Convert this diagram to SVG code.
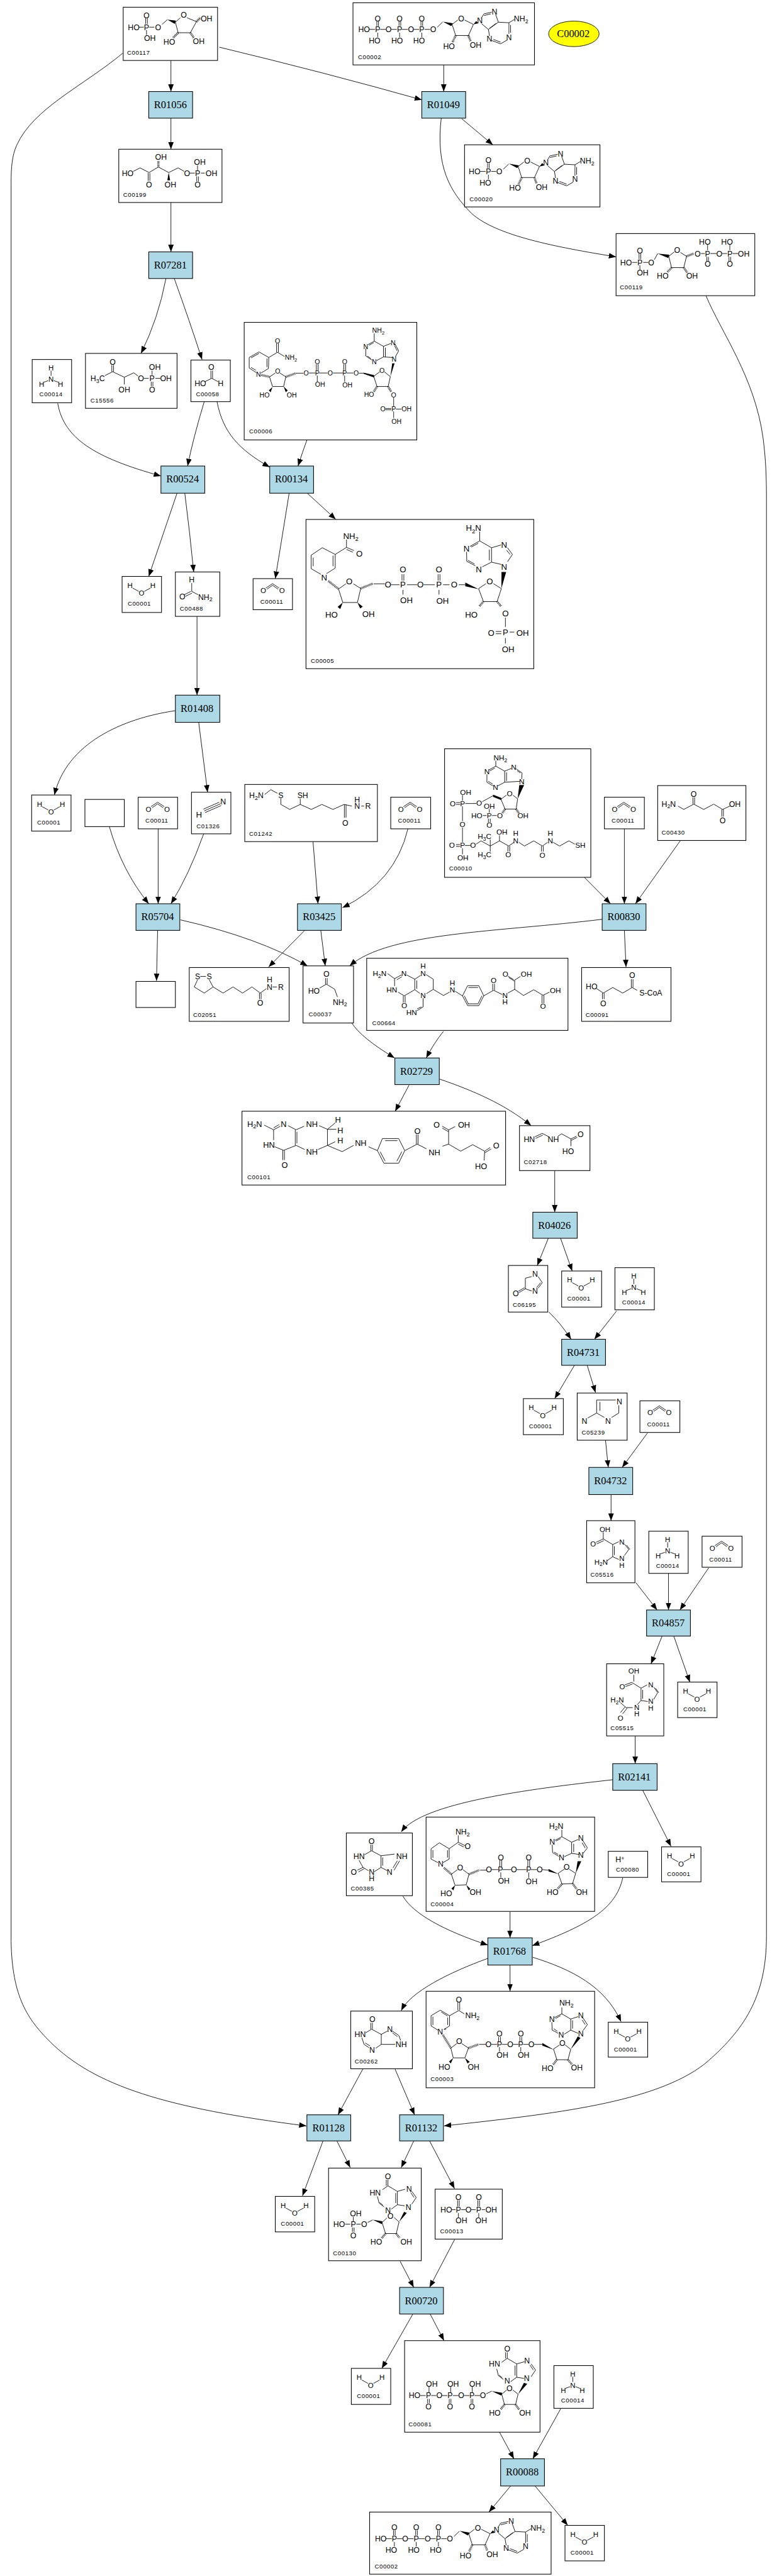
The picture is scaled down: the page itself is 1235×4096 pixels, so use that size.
<svg xmlns="http://www.w3.org/2000/svg" xmlns:xlink="http://www.w3.org/1999/xlink" width="1235" height="4096" viewBox="0 0 1235 4096">
<style>
text{font-family:"Liberation Sans",Arial,sans-serif;fill:#000}
.n{fill:#fff;stroke:#000;stroke-width:1.2}
.r{fill:#add8e6;stroke:#000;stroke-width:1.2}
.l{font-family:"Liberation Serif","Times New Roman",serif;font-size:18.67px;text-anchor:middle}
.a{text-anchor:middle}
.f{text-anchor:start}
.c{font-size:11px;letter-spacing:.6px}
.s{font-size:.72em}
.b{fill:none;stroke:#000;stroke-width:1}
.h{fill:none;stroke:#000;stroke-width:4;stroke-dasharray:1 1.4}
.w{fill:#000}
.z .b{stroke-width:3}
.z .h{stroke-width:12;stroke-dasharray:3 4.2}
.z .c{font-size:33px;letter-spacing:1.8px}
.e{fill:none;stroke:#000;stroke-width:1;marker-end:url(#ah)}
</style>
<defs>
<marker id="ah" markerUnits="userSpaceOnUse" markerWidth="14" markerHeight="11" refX="13" refY="5" orient="auto"><path d="M0 0L13 5L0 10z" fill="#000"/></marker>
<path id="h2o" class="b" d="M19 21L30 27M40 27L51 21"/>
<path id="nh3" class="b" d="M34 20V29.5M29 38L21 41M39 38L47 41"/>
<path id="co2" class="b" d="M23 17L35 9L47 17M25 19L35 12L45 19"/>
<g id="adn">
<path class="b" d="M152 44L161.6 34.6M178.6 39L189 31M201 31L217 39L208 59H185L178.6 39M231 28L236 20L250 17M236 23L248 20M257 21L262 35L244 48L232 38M258 37L246 46M262 35L281 36L291 30M281 36V56M284 40V54M278 67L266 74L250 68M266 71L253 66M246 60L244 48"/>
<polygon class="w" points="162,34 180,37 177,42"/>
<polygon class="w" points="217,39 222,33 226,37"/>
<path class="h" d="M185 59L179 72M208 59L212 70"/>
</g>
<path id="atpl" class="b" d="M43 33V42M46 33V42M83 33V42M86 33V42M122.5 33V42M125.5 33V42M44.6 54V62M84 54V62M124 54V62M29 48H40M49 48H59M69 48H79M88 48H99M109 48H119M129 48H139"/>
<path id="hyp" class="b" d="M107 32V21M104 32V21M107 32L97 39M107 32L124 42M124 42V66M121 45V63M124 42L138 38M150 42L158 53L150 65M148 44L154 53M124 66L137 68M124 66L113 74M100 70L91 63L88 51M98 67L92 62"/>
</defs>
<rect width="1235" height="4096" fill="#fff"/>
<g transform="scale(.88214)" font-size="14">

<g id="connectors">
<path class="e" d="M308 109V165"/>
<path class="e" d="M395 85Q590 132 760 180"/>
<path class="e" d="M221 96C150 155 60 195 30 262C22 280 20 300 20 330L20 3500C22 3600 50 3640 90 3680C170 3760 300 3800 552 3832"/>
<path class="e" d="M795 213C785 300 810 345 850 385C895 425 1000 445 1110 463"/>
<path class="e" d="M832 214L888 261"/>
<path class="e" d="M799.5 117V165"/>
<path class="e" d="M308 213V269"/>
<path class="e" d="M308 365V454"/>
<path class="e" d="M299 502Q285 575 254 637"/>
<path class="e" d="M314 502Q342 580 364 648"/>
<path class="e" d="M1272 533C1300 600 1360 680 1375 790C1380 830 1381 860 1381 900L1381 3490C1381 3600 1340 3660 1270 3720C1180 3790 1000 3810 800 3832"/>
<path class="e" d="M104 727C115 790 170 825 290 858"/>
<path class="e" d="M368 724Q348 790 338 840"/>
<path class="e" d="M391 724C402 780 430 810 486 842"/>
<path class="e" d="M553 793Q545 815 537 840"/>
<path class="e" d="M319 889L268 1039"/>
<path class="e" d="M333 889Q342 960 349 1031"/>
<path class="e" d="M521 889Q508 970 496 1043"/>
<path class="e" d="M553.6 889L605 936"/>
<path class="e" d="M355 1111V1253"/>
<path class="e" d="M316 1281C220 1295 120 1340 98 1433"/>
<path class="e" d="M358 1302L374 1428"/>
<path class="e" d="M197 1490Q220 1570 268 1629"/>
<path class="e" d="M285 1494V1629"/>
<path class="e" d="M367 1503Q340 1578 308 1629"/>
<path class="e" d="M564 1517L573 1629"/>
<path class="e" d="M735 1494Q712 1590 617 1636"/>
<path class="e" d="M1053 1581.500L1100 1629"/>
<path class="e" d="M1125 1494V1629"/>
<path class="e" d="M1226 1515L1145 1629"/>
<path class="e" d="M325 1658Q465 1690 554 1741"/>
<path class="e" d="M549 1677L484 1743"/>
<path class="e" d="M578 1677L586 1741"/>
<path class="e" d="M1085 1657C900 1680 700 1680 630 1741"/>
<path class="e" d="M1125 1677L1128 1743"/>
<path class="e" d="M284 1677L282 1768"/>
<path class="e" d="M634 1844Q650 1870 711 1907"/>
<path class="e" d="M799 1859Q782 1880 768 1907"/>
<path class="e" d="M737 1956L712 2003"/>
<path class="e" d="M792 1945C850 1965 910 1990 957 2029"/>
<path class="e" d="M999.500 2110V2185"/>
<path class="e" d="M988 2232L968 2281"/>
<path class="e" d="M1010 2232L1031 2291"/>
<path class="e" d="M989 2365Q1010 2385 1029 2414"/>
<path class="e" d="M1111 2363L1071 2414"/>
<path class="e" d="M1035 2461L999.500 2521"/>
<path class="e" d="M1058 2461L1073 2510"/>
<path class="e" d="M1091 2596L1096 2645"/>
<path class="e" d="M1166.600 2583L1121 2645"/>
<path class="e" d="M1101 2694V2741"/>
<path class="e" d="M1146 2853L1184 2902"/>
<path class="e" d="M1204.500 2836V2902"/>
<path class="e" d="M1277 2826L1225 2902"/>
<path class="e" d="M1193 2949L1173 2999"/>
<path class="e" d="M1214 2949L1243 3032"/>
<path class="e" d="M1144.500 3129V3179"/>
<path class="e" d="M1104 3208C950 3225 760 3250 723 3302"/>
<path class="e" d="M1158 3227L1209 3328"/>
<path class="e" d="M726 3418C745 3450 800 3480 879 3506"/>
<path class="e" d="M919 3446V3493"/>
<path class="e" d="M1122 3385C1110 3440 1060 3470 959 3507"/>
<path class="e" d="M879 3530C810 3555 740 3590 723 3624"/>
<path class="e" d="M919 3542V3589"/>
<path class="e" d="M960 3528C1030 3550 1090 3580 1119 3644"/>
<path class="e" d="M654 3729L609 3812"/>
<path class="e" d="M711.600 3729L747 3812"/>
<path class="e" d="M582 3859L545 3958"/>
<path class="e" d="M607 3859L631 3907"/>
<path class="e" d="M745.500 3859L723 3907"/>
<path class="e" d="M774 3859L819 3945"/>
<path class="e" d="M721 4076L745.500 4123"/>
<path class="e" d="M819 4037L774 4123"/>
<path class="e" d="M744 4171L688 4269"/>
<path class="e" d="M775 4171L800 4219"/>
<path class="e" d="M900 4384L926 4432"/>
<path class="e" d="M1011 4340.500L960 4432"/>
<path class="e" d="M920 4481L881 4528"/>
<path class="e" d="M964 4481L1023 4552"/>
</g>

<g id="C00002_key"><ellipse cx="1034" cy="61" rx="45.500" ry="23" fill="#ff0" stroke="#000"/><text class="l" x="1033" y="67">C00002</text></g>

<g id="R01056" transform="translate(268,165)"><rect class="r" width="79" height="48"/><text class="l" x="39" y="30">R01056</text></g>
<g id="R01049" transform="translate(760,165)"><rect class="r" width="79" height="48"/><text class="l" x="39" y="30">R01049</text></g>
<g id="R07281" transform="translate(268,454)"><rect class="r" width="79" height="48"/><text class="l" x="39" y="30">R07281</text></g>
<g id="R00524" transform="translate(290,840)"><rect class="r" width="79" height="49"/><text class="l" x="39" y="30">R00524</text></g>
<g id="R00134" transform="translate(486,840)"><rect class="r" width="79" height="49"/><text class="l" x="39" y="30">R00134</text></g>
<g id="R01408" transform="translate(316,1253)"><rect class="r" width="80" height="49"/><text class="l" x="39" y="30">R01408</text></g>
<g id="R05704" transform="translate(245,1629)"><rect class="r" width="79" height="48"/><text class="l" x="39" y="30">R05704</text></g>
<g id="R03425" transform="translate(536,1629)"><rect class="r" width="79" height="48"/><text class="l" x="39" y="30">R03425</text></g>
<g id="R00830" transform="translate(1085,1629)"><rect class="r" width="79" height="48"/><text class="l" x="39" y="30">R00830</text></g>
<g id="R02729" transform="translate(711.500,1907)"><rect class="r" width="80" height="48"/><text class="l" x="39" y="30">R02729</text></g>
<g id="R04026" transform="translate(960,2185)"><rect class="r" width="80" height="47"/><text class="l" x="39" y="30">R04026</text></g>
<g id="R04731" transform="translate(1012,2414)"><rect class="r" width="79" height="47"/><text class="l" x="39" y="30">R04731</text></g>
<g id="R04732" transform="translate(1061,2645)"><rect class="r" width="79" height="49"/><text class="l" x="39" y="30">R04732</text></g>
<g id="R04857" transform="translate(1165,2902)"><rect class="r" width="79" height="47"/><text class="l" x="39" y="30">R04857</text></g>
<g id="R02141" transform="translate(1104,3179)"><rect class="r" width="80" height="48"/><text class="l" x="39" y="30">R02141</text></g>
<g id="R01768" transform="translate(879,3493)"><rect class="r" width="80" height="49"/><text class="l" x="39" y="30">R01768</text></g>
<g id="R01128" transform="translate(553,3812)"><rect class="r" width="79" height="47"/><text class="l" x="39" y="30">R01128</text></g>
<g id="R01132" transform="translate(720,3812)"><rect class="r" width="79" height="47"/><text class="l" x="39" y="30">R01132</text></g>
<g id="R00720" transform="translate(720,4123)"><rect class="r" width="79" height="48"/><text class="l" x="39" y="30">R00720</text></g>
<g id="R00088" transform="translate(902,4432)"><rect class="r" width="79" height="49"/><text class="l" x="39" y="30">R00088</text></g>

<g id="blank_1" transform="translate(153,1441)"><rect class="n" width="71" height="49"/></g>
<g id="blank_2" transform="translate(245,1769)"><rect class="n" width="71" height="47"/></g>

<g id="C00117" transform="translate(222,13)"><rect class="n" width="170" height="96"/>
<path class="b" d="M40.500 20V30M43.500 20V30M42 41V50M28 36H37M47 36H56M70 31L79.500 22.500M94 27L103 19M115 19L132 26L121 46H99L94 27"/>
<polygon class="w" points="79.500,22.500 95,24 93,30"/>
<path class="h" d="M99 46L90 55M121 46L127 55M132 26L139 19"/>
<text class="a" x="42" y="20">O</text><text class="a" x="42" y="41">P</text><text class="a" x="19" y="41">HO</text><text class="a" x="63" y="41">O</text><text class="a" x="48" y="61">OH</text><text class="a" x="109" y="19">O</text><text class="a" x="150" y="25">OH</text><text class="a" x="83" y="67">HO</text><text class="a" x="136" y="66">OH</text><text class="c" x="7" y="86">C00117</text></g>

<g id="C00002_1" transform="translate(636,5)"><rect class="n" width="327" height="112"/>
<use href="#atpl"/><use href="#adn"/>
<text class="a" x="44.600" y="33">O</text><text class="a" x="84" y="33">O</text><text class="a" x="124" y="33">O</text><text class="a" x="20" y="53">HO</text><text class="a" x="44.600" y="53">P</text><text class="a" x="64" y="53">O</text><text class="a" x="84" y="53">P</text><text class="a" x="104.500" y="53">O</text><text class="a" x="124" y="53">P</text><text class="a" x="144.600" y="53">O</text><text class="a" x="39" y="73">HO</text><text class="a" x="79.500" y="73">HO</text><text class="a" x="119" y="73">HO</text><text class="a" x="195" y="34">O</text><text class="a" x="173" y="83">HO</text><text class="a" x="221" y="81">OH</text><text class="a" x="228.600" y="37">N</text><text class="a" x="255" y="21">N</text><text class="f" x="290" y="34">NH<tspan class="s" dy="3">2</tspan></text><text class="a" x="281" y="67">N</text><text class="a" x="246" y="70">N</text><text class="c" x="9" y="102">C00002</text></g>

<g id="C00020" transform="translate(837,261)"><rect class="n" width="244" height="112"/>
<use href="#adn" x="-82"/><path class="b" d="M41.500 33V42M44.500 33V42M43 54V62M28 48H38M48 48H57"/>
<text class="a" x="43" y="33">O</text><text class="a" x="18" y="53">HO</text><text class="a" x="43" y="53">P</text><text class="a" x="62.500" y="53">O</text><text class="a" x="37.500" y="73">HO</text><text class="a" x="113" y="34">O</text><text class="a" x="91" y="83">HO</text><text class="a" x="139" y="81">OH</text><text class="a" x="146.600" y="37">N</text><text class="a" x="173" y="21">N</text><text class="f" x="208" y="34">NH<tspan class="s" dy="3">2</tspan></text><text class="a" x="199" y="67">N</text><text class="a" x="164" y="70">N</text><text class="c" x="9" y="102">C00020</text></g>

<g id="C00199" transform="translate(214,269)"><rect class="n" width="186" height="96"/>
<path class="b" d="M26 40L38.400 33.600L54.500 42L71.400 32L90 42L107 33.600L118 40M53 43V57M56 43V57M128 43H137M148 43H155M142 29V38M140.500 49V58M143.500 49V58"/>
<path class="h" d="M71.400 32V20"/><polygon class="w" points="90,42 87.500,56 92.500,56"/>
<text class="a" x="16" y="48">HO</text><text class="a" x="54.500" y="69">O</text><text class="a" x="76" y="19">OH</text><text class="a" x="93" y="69">OH</text><text class="a" x="123" y="48">O</text><text class="a" x="142" y="48">P</text><text class="a" x="146" y="28">OH</text><text class="a" x="167" y="48">OH</text><text class="a" x="142" y="69">O</text><text class="c" x="8" y="86">C00199</text></g>

<g id="C00119" transform="translate(1110,421)"><rect class="n" width="250" height="112"/>
<path class="b" d="M41.500 36V46M44.500 36V46M43 57V66M29 52H38M49 52H58M69 47L75 36M95 41L105 33M116 34L127 41L122 61.400H100L95 41M153 36H160M170 36H181M191 36H200M210 36H220M165 20V30M205 20V30M163.500 42V50M166.500 42V50M203.500 42V50M206.500 42V50"/>
<polygon class="w" points="75,36 96,38 94,44"/>
<path class="h" d="M127 41L140 36M100 61.400L92 70M122 61.400L128 70"/>
<text class="a" x="43" y="57">P</text><text class="a" x="43" y="36">O</text><text class="a" x="18" y="57">HO</text><text class="a" x="63.400" y="57">O</text><text class="a" x="48" y="76">OH</text><text class="a" x="110" y="35">O</text><text class="a" x="84" y="81">HO</text><text class="a" x="137" y="81">OH</text><text class="a" x="147" y="41">O</text><text class="a" x="165" y="41">P</text><text class="a" x="186" y="41">O</text><text class="a" x="205" y="41">P</text><text class="a" x="230" y="41">OH</text><text class="a" x="160" y="20">HO</text><text class="a" x="200" y="20">HO</text><text class="a" x="165" y="60">O</text><text class="a" x="205" y="60">O</text><text class="c" x="7" y="101">C00119</text></g>

<g id="C15556" transform="translate(154,637)"><rect class="n" width="165" height="99"/>
<path class="b" d="M35 40L49 33L70 43L87 35L95 41M47.500 33V21M50.500 33V21M70 43V56M105 45H114M126 45H135M120 31V39M118.500 51V59M121.500 51V59"/>
<text class="f" x="9" y="50">H<tspan class="s" dy="3">3</tspan><tspan dy="-3">C</tspan></text><text class="a" x="49" y="20">O</text><text class="a" x="70" y="70">OH</text><text class="a" x="100" y="50">O</text><text class="a" x="120" y="50">P</text><text class="a" x="125" y="30">OH</text><text class="a" x="145" y="50">OH</text><text class="a" x="120" y="70">O</text><text class="c" x="9" y="89">C15556</text></g>

<g id="C00058" transform="translate(344,649)"><rect class="n" width="71" height="75"/>
<path class="b" d="M36 33V19M39 33V19M37.500 33L25 39M37.500 33L49 39"/>
<text class="a" x="36.600" y="18">O</text><text class="a" x="17" y="47">HO</text><text class="a" x="53.600" y="47">H</text><text class="c" x="9" y="65">C00058</text></g>

<g id="C00014_1" transform="translate(58,648)"><rect class="n" width="71" height="78"/><use href="#nh3"/>
<text class="a" x="34" y="20" font-size="13">H</text><text class="a" x="34" y="40" font-size="13">N</text><text class="a" x="17" y="49" font-size="13">H</text><text class="a" x="51" y="49" font-size="13">H</text><text class="c" x="13" y="66">C00014</text></g>

<g id="C00006"><rect class="n" x="440" y="581" width="311" height="212"/>
<g class="z" transform="translate(435,575) scale(.33333)" font-size="36">
<path class="b" d="M148 208L95 178L42 208V265L80 290M148 208L146 268L106 292M52 210L95 186M138 214V260M52 262L78 277M148 208L195 180L232 202M190 180V132M200 180V132M152 313L183 292M208 292L240 313L228 365H168L152 313M295 293H335M365 292H400M420 292H465M495 292H548M568 292H605M405 278V245M415 278V245M553 278V245M563 278V245M410 306V340M558 306V340M635 293H660M715 310L748 285M772 285L805 312L793 365H733L715 310M823 425V475M778 484H810M778 491H810M835 487H865M823 500V535M815 208L768 205V148L808 132M778 205V155M830 135L850 172L832 205M828 145L842 172M768 148L718 120L685 138M715 128L690 142M672 160V200L705 222M680 200L700 214M730 225L768 205M718 120V78"/>
<path class="h" d="M108 303L152 313M240 313L295 293M733 365L715 395M793 365L810 395"/>
<polygon class="w" points="168,367 148,386 158,396"/><polygon class="w" points="228,365 240,396 250,386"/><polygon class="w" points="660,290 660,296 717,316 717,304"/><polygon class="w" points="805,312 815,240 828,240"/>
<text class="a" x="195" y="131">O</text><text class="f" x="235" y="222">NH<tspan class="s" dy="10">2</tspan></text><text class="a" x="92" y="311">N</text><text class="a" x="125" y="425">HO</text><text class="a" x="272" y="423">OH</text><text class="a" x="196" y="296">O</text><text class="a" x="350" y="305">O</text><text class="a" x="410" y="305">P</text><text class="a" x="480" y="305">O</text><text class="a" x="558" y="305">P</text><text class="a" x="620" y="305">O</text><text class="a" x="410" y="243">O</text><text class="a" x="558" y="243">O</text><text class="a" x="425" y="368">OH</text><text class="a" x="573" y="370">OH</text><text class="a" x="760" y="291">O</text><text class="a" x="825" y="231">N</text><text class="a" x="690" y="421">HO</text><text class="a" x="823" y="423">O</text><text class="a" x="823" y="500">P</text><text class="a" x="765" y="500">O</text><text class="a" x="893" y="500">OH</text><text class="a" x="838" y="566">OH</text><text class="a" x="820" y="141">N</text><text class="a" x="672" y="161">N</text><text class="a" x="718" y="243">N</text><text class="f" x="707" y="75">NH<tspan class="s" dy="10">2</tspan></text><text class="c" x="42" y="618">C00006</text>
</g></g>

<g id="C00488" transform="translate(316,1031)"><rect class="n" width="80" height="80"/>
<path class="b" d="M29.500 35V20M28 35L16 41M30 38L18 44M29.500 35L41 41"/>
<text class="a" x="29.500" y="19">H</text><text class="a" x="12.500" y="49">O</text><text class="f" x="41" y="50">NH<tspan class="s" dy="3">2</tspan></text><text class="c" x="8" y="70">C00488</text></g>

<g id="C00001_1" transform="translate(220,1039)"><rect class="n" width="71" height="65"/><use href="#h2o"/><text class="a" x="14.300" y="21" font-size="13">H</text><text class="a" x="35" y="35" font-size="13">O</text><text class="a" x="55.300" y="21" font-size="13">H</text><text class="c" x="10" y="53">C00001</text></g>
<g id="C00011_1" transform="translate(456,1043)"><rect class="n" width="71" height="56"/><use href="#co2"/><text class="a" x="18.500" y="26" font-size="13">O</text><text class="a" x="52" y="26" font-size="13">O</text><text class="c" x="13" y="45.500">C00011</text></g>

<g id="C00005"><rect class="n" x="551.300" y="936.300" width="410.400" height="269"/>
<g class="z" transform="translate(545,930) scale(.33333)" font-size="45">
<path class="b" d="M107 172L47 212V285L100 316M107 172L177 208V282L130 312M58 225V272M165 215V272M177 208L238 170V128M238 170L278 187M238 181L272 196M195 395L235 367M275 367L315 392L297 468H218L195 395M385 367H445M478 372H525M565 372H620M655 372H715M760 372H795M845 372H880M538 350V315M548 350V315M733 350V315M743 350V315M543 400V425M738 400V425M952 393L992 366M1032 366L1075 393L1052 463H978L952 393M1097 550V600M1045 625H1075M1045 637H1075M1120 628H1145M1097 660V690M1075 262L1022 250V172L1073 157M1010 240V182M1108 172L1135 208L1108 248M1103 185L1122 208M1022 172L958 135L905 165M950 148L912 168M887 195L888 245L935 270M895 240L930 260M972 275L1022 250M958 135V85"/>
<path class="h" d="M140 352L195 395M315 392L382 365M978 463L955 490M1052 463L1075 490"/>
<polygon class="w" points="218,468 190,492 204,504"/><polygon class="w" points="297,468 312,500 326,490"/><polygon class="w" points="880,360 880,380 952,396"/><polygon class="w" points="1075,393 1076,303 1101,303"/>
<text class="a" x="117" y="348">N</text><text class="f" x="220" y="123">NH<tspan class="s" dy="12">2</tspan></text><text class="a" x="307" y="221">O</text><text class="a" x="253" y="370">O</text><text class="a" x="157" y="551">HO</text><text class="a" x="357" y="546">OH</text><text class="a" x="462" y="388">O</text><text class="a" x="543" y="388">P</text><text class="a" x="637" y="388">O</text><text class="a" x="738" y="388">P</text><text class="a" x="820" y="388">O</text><text class="a" x="543" y="306">O</text><text class="a" x="738" y="306">O</text><text class="a" x="562" y="473">OH</text><text class="a" x="757" y="474">OH</text><text class="a" x="1012" y="370">O</text><text class="a" x="913" y="548">HO</text><text class="a" x="1097" y="543">O</text><text class="a" x="1097" y="646">P</text><text class="a" x="1020" y="648">O</text><text class="a" x="1190" y="648">OH</text><text class="a" x="1112" y="738">OH</text><text class="a" x="1090" y="291">N</text><text class="a" x="1090" y="171">N</text><text class="a" x="887" y="194">N</text><text class="a" x="953" y="306">N</text><text class="f" x="883" y="81">H<tspan class="s" dy="12">2</tspan><tspan dy="-12">N</tspan></text><text class="c" x="45" y="794">C00005</text>
</g></g>

<g id="C00001_2" transform="translate(57,1433)"><rect class="n" width="71" height="65"/><use href="#h2o"/><text class="a" x="14.300" y="21" font-size="13">H</text><text class="a" x="35" y="35" font-size="13">O</text><text class="a" x="55.300" y="21" font-size="13">H</text><text class="c" x="10" y="53">C00001</text></g>
<g id="C00011_2" transform="translate(249,1437)"><rect class="n" width="71" height="57"/><use href="#co2"/><text class="a" x="18.500" y="26" font-size="13">O</text><text class="a" x="52" y="26" font-size="13">O</text><text class="c" x="13" y="45.500">C00011</text></g>
<g id="C00011_3" transform="translate(704,1437)"><rect class="n" width="72" height="57"/><use href="#co2"/><text class="a" x="18.500" y="26" font-size="13">O</text><text class="a" x="52" y="26" font-size="13">O</text><text class="c" x="13" y="45.500">C00011</text></g>
<g id="C00011_4" transform="translate(1089,1437)"><rect class="n" width="72" height="57"/><use href="#co2"/><text class="a" x="18.500" y="26" font-size="13">O</text><text class="a" x="52" y="26" font-size="13">O</text><text class="c" x="13" y="45.500">C00011</text></g>

<g id="C01326" transform="translate(345,1428)"><rect class="n" width="71" height="75"/>
<path class="b" d="M23 33.600L52 21M21.500 30.500L50 18M24.500 36.700L53.500 24"/>
<text class="a" x="13.400" y="46" font-size="15">H</text><text class="a" x="57" y="22">N</text><text class="c" x="9" y="65">C01326</text></g>

<g id="C01242" transform="translate(441,1414)"><rect class="n" width="239" height="103"/>
<path class="b" d="M36 18L47 9.400L59 16M65 25V36L81 45L100 36L120 45L139 36L159 45L179 36L193 39M100 36V26M179.500 36V60M182.500 36V60M210 39H215"/>
<text class="f" x="8" y="25">H<tspan class="s" dy="3">2</tspan><tspan dy="-3">N</tspan></text><text class="a" x="65" y="24">S</text><text class="a" x="104.500" y="24">SH</text><text class="a" x="202.700" y="32">H</text><text class="a" x="202.700" y="44">N</text><text class="a" x="222" y="44">R</text><text class="a" x="181" y="74">O</text><text class="c" x="8" y="93">C01242</text></g>

<g id="C00010"><rect class="n" x="801" y="1349.700" width="263.500" height="231.700"/>
<g class="z" transform="translate(795,1345) scale(.33333)" font-size="40">
<path class="b" d="M295 108V78M295 108L258 128M290 118L262 134M247 152V195L280 215M254 190L278 205M305 215L343 195V135L295 108M353 188V142M343 135L380 120M405 122L437 145L435 178M410 132L428 145M425 190L343 195M413 285L388 265M352 265L323 287L345 340H405L413 285M280 268L222 300M190 310H130M115 295V265M80 305H102M80 315H102M115 325V405M115 440V520M128 537H158M80 532H102M80 542H102M115 552V585M188 530L215 512L265 540L315 512L365 540L393 520M420 520L450 540L500 512L547 540L575 520M605 520L640 540L690 512L722 530M360 540V570M370 540V570M542 540V570M552 540V570M315 512V482M265 540V505M265 540V570M225 375H245M275 375H300M260 340V360M255 392V412M265 392V412"/>
<path class="h" d="M345 340L330 362M405 340L420 362"/>
<polygon class="w" points="413,285 422,210 448,210"/><polygon class="w" points="280,262 280,274 325,292 325,280"/>
<text class="f" x="283" y="76">NH<tspan class="s" dy="10">2</tspan></text><text class="a" x="247" y="152">N</text><text class="a" x="293" y="236">N</text><text class="a" x="392" y="126">N</text><text class="a" x="435" y="206">N</text><text class="a" x="370" y="271">O</text><text class="a" x="205" y="322">O</text><text class="a" x="115" y="324">P</text><text class="a" x="132" y="264">OH</text><text class="a" x="62" y="324">O</text><text class="a" x="115" y="437">O</text><text class="a" x="115" y="551">P</text><text class="a" x="58" y="551">O</text><text class="a" x="172" y="551">O</text><text class="a" x="117" y="617">OH</text><text class="a" x="362" y="602">O</text><text class="a" x="547" y="604">O</text><text class="a" x="403" y="524">N</text><text class="a" x="403" y="486">H</text><text class="a" x="590" y="524">N</text><text class="a" x="590" y="486">H</text><text class="a" x="752" y="551">SH</text><text class="a" x="328" y="477">OH</text><text class="f" x="197" y="501">H<tspan class="s" dy="10">3</tspan><tspan dy="-10">C</tspan></text><text class="f" x="197" y="599">H<tspan class="s" dy="10">3</tspan><tspan dy="-10">C</tspan></text><text class="a" x="317" y="389">O</text><text class="a" x="442" y="389">OH</text><text class="a" x="260" y="389">P</text><text class="a" x="260" y="339">OH</text><text class="a" x="192" y="389">HO</text><text class="a" x="260" y="442">O</text><text class="c" x="42" y="673">C00010</text>
</g></g>

<g id="C00430" transform="translate(1185,1416)"><rect class="n" width="159" height="99"/>
<path class="b" d="M36.600 37L47 43L65 33.500L83 43L101 33.500L117 43L130 37M63.500 33.500V21M66.500 33.500V21M115.500 43V56M118.500 43V56"/>
<text class="f" x="7" y="38">H<tspan class="s" dy="3">2</tspan><tspan dy="-3">N</tspan></text><text class="a" x="65" y="20">O</text><text class="a" x="139" y="38">OH</text><text class="a" x="117" y="68">O</text><text class="c" x="7" y="88">C00430</text></g>

<g id="C02051" transform="translate(341,1744)"><rect class="n" width="180" height="97"/>
<path class="b" d="M20 16H30M15 22L9 35L27 46L43 35L36 22M43 35L61 46L79 35L96 46L113 35L128 46L139 38M126.500 46V57M129.500 46V57M150 35H158"/>
<text class="a" x="15" y="20.500">S</text><text class="a" x="36" y="20.500">S</text><text class="a" x="144.600" y="27">H</text><text class="a" x="144.600" y="40">N</text><text class="a" x="165" y="40">R</text><text class="a" x="127.700" y="69">O</text><text class="c" x="7" y="89">C02051</text></g>

<g id="C00037" transform="translate(546,1741)"><rect class="n" width="91" height="103"/>
<path class="b" d="M30 40L42 33M40.500 33V22M43.500 33V22M42 33L57 42L62 56"/>
<text class="a" x="42" y="20">O</text><text class="a" x="19.600" y="50">HO</text><text class="f" x="53.600" y="70">NH<tspan class="s" dy="3">2</tspan></text><text class="c" x="10" y="91">C00037</text></g>

<g id="C00664"><rect class="n" x="660.700" y="1727.300" width="362.700" height="130"/>
<g class="z" transform="translate(640,1720) scale(.33333)" font-size="40">
<path class="b" d="M175 105L213 132L250 112M225 138L252 122M278 112L322 135L353 115M383 110L422 135V190L385 213M350 212L322 192V135M333 187V142M322 192L265 225L232 205M213 132V172M260 225V262M270 225V262M367 238V285L335 305M358 285L335 295M422 190L477 223L510 205M540 200L580 225L608 170H668L695 225L668 278H608L580 225M612 180H664M590 225L612 270M685 225L664 268M610 268H664M695 225L748 195L795 218M743 195V160M753 195V160M825 210L862 190V140L893 120M857 138L825 118M862 146L830 126M862 190L910 223L965 192L1015 222L1050 205M1010 222V265M1020 222V265"/>
<text class="f" x="95" y="118">H<tspan class="s" dy="10">2</tspan><tspan dy="-10">N</tspan></text><text class="a" x="263" y="117">N</text><text class="a" x="367" y="117">N</text><text class="a" x="367" y="79">H</text><text class="a" x="198" y="206">HN</text><text class="a" x="367" y="236">N</text><text class="a" x="265" y="292">O</text><text class="a" x="305" y="329">HN</text><text class="a" x="525" y="169">H</text><text class="a" x="525" y="206">N</text><text class="a" x="748" y="157">O</text><text class="a" x="810" y="236">N</text><text class="a" x="810" y="271">H</text><text class="a" x="812" y="121">O</text><text class="a" x="925" y="121">OH</text><text class="a" x="1082" y="209">OH</text><text class="a" x="1015" y="294">O</text><text class="c" x="92" y="385">C00664</text>
</g></g>

<g id="C00091" transform="translate(1048,1744)"><rect class="n" width="161" height="97"/>
<path class="b" d="M27 38L39 46L56 36L74 46L91 36L100 41M37.500 46V57M40.500 46V57M89.500 36V21M92.500 36V21"/>
<text class="a" x="18" y="39">HO</text><text class="a" x="39" y="70">O</text><text class="a" x="91" y="19">O</text><text class="f" x="104" y="50">S-CoA</text><text class="c" x="7" y="89">C00091</text></g>

<g id="C00101" transform="translate(436,2003)"><rect class="n" width="475" height="133"/>
<path class="b" d="M40 25L57 33.500L69 27M57 30L67 24M83 26L97.600 33.500L112 27M139 26L154 32.600L168 21M154 32.600H170M154 32.600V61.600L168 55M154 61.600L137 69M113 69L97.600 61.600M96 33.500V61.600M99 37V58M97.600 61.600L75 70.500L59 64M57 33.500V52M73.500 70.500V88M76.500 70.500V88M154 61.600L180.600 72.800L201 61.600M228 64L244 71L253 49.300H282.300L293.300 71L282.300 93.700H255.700L244 71M258 53H280M249 73L258 90M288 73L279 90M293.300 71L315.700 59.300L332.300 67.700M314.200 59.300V42M317.200 59.300V42M361.300 63L372.300 59.300V33.700L360.700 27M372.300 37L361 30.500M372.300 33.700L384 27.700M372.300 59.300L394 72L415.700 60.300L437.300 72L447.300 65.300M437.300 75L449 68M437.300 72L436.300 88.700"/>
<g font-size="14.500"><text class="f" x="9.500" y="28">H<tspan class="s" dy="3">2</tspan><tspan dy="-3">N</tspan></text><text class="a" x="75" y="28">N</text><text class="a" x="126" y="28">NH</text><text class="a" x="173" y="21">H</text><text class="a" x="177" y="40">H</text><text class="a" x="177" y="58">H</text><text class="a" x="48.500" y="66">HN</text><text class="a" x="126" y="78">NH</text><text class="a" x="77" y="102">O</text><text class="a" x="214" y="63">NH</text><text class="a" x="316" y="41">O</text><text class="a" x="400" y="29">OH</text><text class="a" x="350.700" y="29">O</text><text class="a" x="346.700" y="79">NH</text><text class="a" x="458" y="67">O</text><text class="a" x="430.700" y="104">HO</text></g><text class="c" x="9.500" y="123">C00101</text></g>

<g id="C02718" transform="translate(936,2029)"><rect class="n" width="127" height="81"/>
<path class="b" d="M28 20L41 14M29 23L42 17M41 14L53 20M69.300 19L76 14.700L92.700 24L102.700 19M93.500 26.500L104 21M92.700 24V37"/>
<text class="a" x="17.700" y="30">HN</text><text class="a" x="61" y="30">NH</text><text class="a" x="110" y="20">O</text><text class="a" x="87.700" y="51">HO</text><text class="c" x="7.700" y="69.700">C02718</text></g>

<g id="C06195" transform="translate(916,2281)"><rect class="n" width="71" height="84"/>
<path class="b" d="M42 20L30.600 23V42L42 46M30.600 42L19 49M29 40L18 46.500M53.600 20L61 31L53.600 41M58 31L51 40"/>
<text class="a" x="48" y="20">N</text><text class="a" x="48" y="51">N</text><text class="a" x="13.400" y="55">O</text><text class="c" x="8" y="75">C06195</text></g>

<g id="C00001_3" transform="translate(1012,2291)"><rect class="n" width="72" height="65"/><use href="#h2o"/><text class="a" x="14.300" y="21" font-size="13">H</text><text class="a" x="35" y="35" font-size="13">O</text><text class="a" x="55.300" y="21" font-size="13">H</text><text class="c" x="10" y="53">C00001</text></g>
<g id="C00014_2" transform="translate(1108,2285)"><rect class="n" width="71" height="76"/><use href="#nh3"/><text class="a" x="34" y="20" font-size="13">H</text><text class="a" x="34" y="40" font-size="13">N</text><text class="a" x="17" y="49" font-size="13">H</text><text class="a" x="51" y="49" font-size="13">H</text><text class="c" x="13" y="66">C00014</text></g>
<g id="C00001_4" transform="translate(943,2521)"><rect class="n" width="72" height="65"/><use href="#h2o"/><text class="a" x="14.300" y="21" font-size="13">H</text><text class="a" x="35" y="35" font-size="13">O</text><text class="a" x="55.300" y="21" font-size="13">H</text><text class="c" x="10" y="53">C00001</text></g>

<g id="C05239" transform="translate(1040,2511)"><rect class="n" width="90" height="85"/>
<path class="b" d="M35 12.500H69.500M35 12.500V36M41 16V32M35 36L49 44M62 44L75 36M75 22V36M35 36L19 45"/>
<text class="a" x="76" y="20">N</text><text class="a" x="55.500" y="55">N</text><text class="a" x="13" y="55">N</text><text class="c" x="8" y="75">C05239</text></g>

<g id="C00011_5" transform="translate(1153,2525)"><rect class="n" width="72" height="57"/><use href="#co2"/><text class="a" x="18.500" y="26" font-size="13">O</text><text class="a" x="52" y="26" font-size="13">O</text><text class="c" x="13" y="45.500">C00011</text></g>

<g id="C05516" transform="translate(1057,2741)"><rect class="n" width="87" height="112"/>
<path class="b" d="M30 33V21M30 33L17 39M31 36L18 42M30 33L47 43V65M50 46V62M47 43L58 38M47 65L58 70M47 65L37 72M68 42L76 52L68 63M72 44L78 52"/>
<g font-size="13"><text class="a" x="33" y="20">OH</text><text class="a" x="11.600" y="47">O</text><text class="a" x="63.400" y="43">N</text><text class="f" x="14" y="79">H<tspan class="s" dy="3">2</tspan><tspan dy="-3">N</tspan></text><text class="a" x="63.400" y="73">N</text><text class="a" x="63.400" y="85">H</text></g><text class="c" x="7" y="101">C05516</text></g>

<g id="C00014_3" transform="translate(1169,2760)"><rect class="n" width="71" height="76"/><use href="#nh3"/><text class="a" x="34" y="20" font-size="13">H</text><text class="a" x="34" y="40" font-size="13">N</text><text class="a" x="17" y="49" font-size="13">H</text><text class="a" x="51" y="49" font-size="13">H</text><text class="c" x="13" y="66">C00014</text></g>
<g id="C00011_6" transform="translate(1265,2769)"><rect class="n" width="72" height="56"/><use href="#co2"/><text class="a" x="18.500" y="26" font-size="13">O</text><text class="a" x="52" y="26" font-size="13">O</text><text class="c" x="13" y="45.500">C00011</text></g>

<g id="C05515" transform="translate(1093,2999)"><rect class="n" width="103" height="130"/>
<path class="b" d="M49 32V20M45.500 33.500L33 38M46.500 36.500L34 41M45.500 33.500L62 44V66M65 47V63M62 44L73 38M62 66L74 68M62 66L55 74M85 42L92 52L85 64M88 44L94 52M35 79L25 70M35 79H47M33 78L25 88M37 80L29 90"/>
<g font-size="13"><text class="a" x="49" y="17">OH</text><text class="a" x="28" y="46">O</text><text class="a" x="79.500" y="42">N</text><text class="a" x="79.500" y="72">N</text><text class="a" x="79.500" y="84">H</text><text class="f" x="7" y="70">H<tspan class="s" dy="3">2</tspan><tspan dy="-3">N</tspan></text><text class="a" x="25" y="102">O</text><text class="a" x="54.500" y="83">N</text><text class="a" x="54.500" y="95">H</text></g><text class="c" x="7" y="120">C05515</text></g>

<g id="C00001_5" transform="translate(1221,3032)"><rect class="n" width="71" height="64"/><use href="#h2o"/><text class="a" x="14.300" y="21" font-size="13">H</text><text class="a" x="35" y="35" font-size="13">O</text><text class="a" x="55.300" y="21" font-size="13">H</text><text class="c" x="10" y="53">C00001</text></g>

<g id="C00385" transform="translate(624,3304)"><rect class="n" width="119" height="113"/>
<path class="b" d="M44 32V21M47 32V21M45.500 32L33 39M45.500 32L62.500 41V62M65.500 44V59M62.500 41L87 38M62.500 62L74 68M62.500 62L50 70M30 62L23 49M30 62L20 67M32 64.500L22 70M30 62L40 68M96 50L86 67M92 50L84 63"/>
<text class="a" x="45.500" y="20">O</text><text class="a" x="23" y="47">HN</text><text class="a" x="100" y="47">NH</text><text class="a" x="13.400" y="75">O</text><text class="a" x="78" y="75">N</text><text class="a" x="45.500" y="75">N</text><text class="a" x="45.500" y="87">H</text><text class="c" x="8" y="104">C00385</text></g>

<g id="C00004"><rect class="n" x="767.700" y="3275.300" width="303.700" height="170"/>
<g class="z" transform="translate(765,3270) scale(.33333)" font-size="42">
<path class="b" d="M133 187L80 155L35 187V243L72 262M133 187V243L100 262M45 195V237M124 195V235M133 187L182 152V115M182 152L218 170M182 162L212 178M145 325L178 300M207 300L240 325L225 382L165 385L145 325M300 303H335M362 300H398M422 300H468M498 300H550M575 300H608M637 300L670 303M407 248V285M417 248V285M558 248V285M568 248V285M412 315V342M563 315V345M722 320L755 298M782 298L817 320L800 375L743 378L722 320M835 218L795 212V152L830 137M806 205V160M855 142L880 183L857 212M852 155L868 183M795 152L742 122L705 142M735 132L710 146M690 165L692 208L725 228M700 205L722 218M755 230L795 212M742 122V85"/>
<path class="h" d="M105 290L145 325M240 325L295 303M743 378L718 405M800 375L822 405"/>
<polygon class="w" points="165,385 145,402 156,412"/><polygon class="w" points="225,382 238,412 248,404"/><polygon class="w" points="670,296 670,310 724,324"/><polygon class="w" points="817,320 827,255 847,255"/>
<text class="f" x="167" y="110">NH<tspan class="s" dy="10">2</tspan></text><text class="a" x="233" y="188">O</text><text class="f" x="673" y="78">H<tspan class="s" dy="10">2</tspan><tspan dy="-10">N</tspan></text><text class="a" x="845" y="145">N</text><text class="a" x="690" y="165">N</text><text class="a" x="740" y="250">N</text><text class="a" x="845" y="237">N</text><text class="a" x="87" y="285">N</text><text class="a" x="192" y="305">O</text><text class="a" x="348" y="315">O</text><text class="a" x="410" y="315">P</text><text class="a" x="483" y="315">O</text><text class="a" x="563" y="315">P</text><text class="a" x="622" y="315">O</text><text class="a" x="412" y="250">O</text><text class="a" x="563" y="250">O</text><text class="a" x="428" y="377">OH</text><text class="a" x="578" y="380">OH</text><text class="a" x="768" y="302">O</text><text class="a" x="117" y="442">HO</text><text class="a" x="275" y="437">OH</text><text class="a" x="692" y="435">HO</text><text class="a" x="850" y="435">OH</text><text class="c" x="32" y="497">C00004</text>
</g></g>

<g id="C00080" transform="translate(1096,3337)"><rect class="n" width="71" height="47"/><text class="f" x="13" y="20">H<tspan class="s" dy="-4">+</tspan></text><text class="c" x="13.700" y="37">C00080</text></g>
<g id="C00001_6" transform="translate(1192,3329)"><rect class="n" width="71" height="63"/><use href="#h2o"/><text class="a" x="14.300" y="21" font-size="13">H</text><text class="a" x="35" y="35" font-size="13">O</text><text class="a" x="55.300" y="21" font-size="13">H</text><text class="c" x="10" y="53">C00001</text></g>

<g id="C00262" transform="translate(632,3625)"><rect class="n" width="111" height="104"/>
<path class="b" d="M36 32.600V21M39 32.600V21M37.500 32.600L27 39M37.500 32.600L55 42V60M55 42L66 36M75 36L86.600 44M75 39L84 46M86.600 44L90 53M80 60H55M55 60L45 67M24 60L20 48M24 60L33 66M26 57.500L35 63"/>
<text class="a" x="39" y="20">O</text><text class="a" x="17" y="47">HN</text><text class="a" x="70.500" y="37.600">N</text><text class="a" x="91" y="65">NH</text><text class="a" x="38.400" y="75.500">N</text><text class="c" x="7" y="94">C00262</text></g>

<g id="C00003"><rect class="n" x="767.700" y="3589.300" width="303.700" height="174"/>
<g class="z" transform="translate(765,3270) scale(.33333)" font-size="42">
<path class="b" d="M180 1018V1060M190 1018V1060M185 1062L135 1090L85 1060L35 1090V1145L72 1168M135 1090V1145L105 1165M90 1070L125 1092M45 1095V1140M125 1100V1140M185 1062L215 1080M142 1265L175 1240M200 1240L237 1265L218 1318H155L142 1265M295 1245H332M360 1245H392M418 1245H448M478 1245H508M533 1245H563M400 1205V1232M410 1205V1232M515 1205V1232M525 1205V1232M405 1260V1285M520 1260V1285M592 1245H637M697 1270L730 1248M760 1248L790 1272L775 1328H715L697 1270M830 1185L790 1168V1108L830 1095M800 1160V1115M855 1100L880 1138L857 1170M852 1113L868 1138M790 1108L742 1080L702 1100M735 1090L708 1105M688 1125L690 1168L722 1185M698 1160L718 1175M755 1190L790 1168M742 1080V1045"/>
<path class="h" d="M100 1195L142 1265M237 1265L292 1245M715 1328L695 1355M775 1328L798 1355"/>
<polygon class="w" points="155,1318 132,1338 142,1348"/><polygon class="w" points="218,1318 232,1348 244,1340"/><polygon class="w" points="637,1238 637,1252 699,1274"/><polygon class="w" points="790,1272 828,1202 843,1210"/>
<text class="a" x="185" y="1017">O</text><text class="f" x="220" y="1103">NH<tspan class="s" dy="10">2</tspan></text><text class="a" x="85" y="1193">N</text><text class="a" x="110" y="1170" font-size="26">+</text><text class="a" x="187" y="1243">O</text><text class="a" x="107" y="1382">HO</text><text class="a" x="265" y="1382">OH</text><text class="a" x="345" y="1260">O</text><text class="a" x="405" y="1260">P</text><text class="a" x="463" y="1260">O</text><text class="a" x="520" y="1260">P</text><text class="a" x="577" y="1260">O</text><text class="a" x="405" y="1203">O</text><text class="a" x="520" y="1203">O</text><text class="a" x="421" y="1318">OH</text><text class="a" x="535" y="1318">OH</text><text class="a" x="745" y="1253">O</text><text class="a" x="665" y="1390">HO</text><text class="a" x="823" y="1387">OH</text><text class="f" x="728" y="1035">NH<tspan class="s" dy="10">2</tspan></text><text class="a" x="845" y="1103">N</text><text class="a" x="845" y="1202">N</text><text class="a" x="688" y="1123">N</text><text class="a" x="738" y="1210">N</text><text class="c" x="32" y="1445">C00003</text>
</g></g>

<g id="C00001_7" transform="translate(1096,3645)"><rect class="n" width="71" height="63"/><use href="#h2o"/><text class="a" x="14.300" y="21" font-size="13">H</text><text class="a" x="35" y="35" font-size="13">O</text><text class="a" x="55.300" y="21" font-size="13">H</text><text class="c" x="10" y="53">C00001</text></g>
<g id="C00001_8" transform="translate(496,3959)"><rect class="n" width="71" height="64"/><use href="#h2o"/><text class="a" x="14.300" y="21" font-size="13">H</text><text class="a" x="35" y="35" font-size="13">O</text><text class="a" x="55.300" y="21" font-size="13">H</text><text class="c" x="10" y="53">C00001</text></g>

<g id="C00130" transform="translate(592,3908)"><rect class="n" width="167" height="167"/>
<use href="#hyp"/>
<path class="b" d="M70.500 98L79.500 93.500M96.400 98L105 90M118 89L127 97L122 118H102.700L96.400 98M43 107V115M46 107V115M44.600 88V96M30 101H39M50 101H58"/>
<polygon class="w" points="79.500,93 97,96 96,101"/><polygon class="w" points="127,97 136,79 141,81"/>
<path class="h" d="M102.700 118L96 126M122 118L128 126"/>
<text class="a" x="107" y="20">O</text><text class="a" x="84" y="49">HN</text><text class="a" x="145" y="43">N</text><text class="a" x="144" y="75">N</text><text class="a" x="107" y="81">N</text><text class="a" x="49" y="87">OH</text><text class="a" x="111.600" y="91">O</text><text class="a" x="19" y="106">HO</text><text class="a" x="64" y="106">O</text><text class="a" x="44.600" y="106">P</text><text class="a" x="44.600" y="126">O</text><text class="a" x="86" y="138">HO</text><text class="a" x="140" y="138">OH</text><text class="c" x="8" y="157">C00130</text></g>

<g id="C00013" transform="translate(784,3946)"><rect class="n" width="121" height="90"/>
<path class="b" d="M40.500 20V31M43.500 20V31M77 20V31M80 20V31M30 37H37M47 37H55M65 37H73M84 37H90M42 43V51M78.600 43V51"/>
<text class="a" x="42" y="19">O</text><text class="a" x="78.600" y="19">O</text><text class="a" x="20" y="42">HO</text><text class="a" x="42" y="42">P</text><text class="a" x="60" y="42">O</text><text class="a" x="78.600" y="42">P</text><text class="a" x="101" y="42">OH</text><text class="a" x="47.300" y="61">OH</text><text class="a" x="83" y="61">OH</text><text class="c" x="9" y="80">C00013</text></g>

<g id="C00001_9" transform="translate(633,4269)"><rect class="n" width="71" height="65"/><use href="#h2o"/><text class="a" x="14.300" y="21" font-size="13">H</text><text class="a" x="35" y="35" font-size="13">O</text><text class="a" x="55.300" y="21" font-size="13">H</text><text class="c" x="10" y="53">C00001</text></g>

<g id="C00081" transform="translate(729,4219)"><rect class="n" width="244" height="165"/>
<use href="#hyp" x="78"/>
<path class="b" d="M175 96.500L184 89M195 89L204.500 96.500L200 115H180L175 96.500M147 96L157 91M44 83V94M83 83V94M122 83V94M41.500 105V113M44.500 105V113M80.500 105V113M83.500 105V113M120 105V113M123 105V113M28 99H38M48 99H57M67 99H77M87 99H97M107 99H117M126 99H136"/>
<polygon class="w" points="157,91 176,94 174,99"/><polygon class="w" points="204.500,96.500 215,76 221,78"/>
<path class="h" d="M180 115L173 124M200 115L206 124"/>
<text class="a" x="185" y="20">O</text><text class="a" x="162" y="47">HN</text><text class="a" x="220.500" y="41">N</text><text class="a" x="220" y="73">N</text><text class="a" x="185" y="77.500">N</text><text class="a" x="49" y="83">OH</text><text class="a" x="87.500" y="83">OH</text><text class="a" x="127" y="83">OH</text><text class="a" x="18" y="104">HO</text><text class="a" x="43" y="104">P</text><text class="a" x="62.500" y="104">O</text><text class="a" x="82" y="104">P</text><text class="a" x="102" y="104">O</text><text class="a" x="121.400" y="104">P</text><text class="a" x="141" y="104">O</text><text class="a" x="43" y="124">O</text><text class="a" x="82" y="124">O</text><text class="a" x="121.400" y="124">O</text><text class="a" x="189" y="90.600">O</text><text class="a" x="162.500" y="135.600">HO</text><text class="a" x="217" y="135.600">OH</text><text class="c" x="7" y="154">C00081</text></g>

<g id="C00014_4" transform="translate(998,4264)"><rect class="n" width="71" height="77"/><use href="#nh3"/><text class="a" x="34" y="20" font-size="13">H</text><text class="a" x="34" y="40" font-size="13">N</text><text class="a" x="17" y="49" font-size="13">H</text><text class="a" x="51" y="49" font-size="13">H</text><text class="c" x="13" y="66">C00014</text></g>

<g id="C00002_2" transform="translate(666,4528)"><rect class="n" width="327" height="112"/>
<use href="#atpl"/><use href="#adn"/>
<text class="a" x="44.600" y="33">O</text><text class="a" x="84" y="33">O</text><text class="a" x="124" y="33">O</text><text class="a" x="20" y="53">HO</text><text class="a" x="44.600" y="53">P</text><text class="a" x="64" y="53">O</text><text class="a" x="84" y="53">P</text><text class="a" x="104.500" y="53">O</text><text class="a" x="124" y="53">P</text><text class="a" x="144.600" y="53">O</text><text class="a" x="39" y="73">HO</text><text class="a" x="79.500" y="73">HO</text><text class="a" x="119" y="73">HO</text><text class="a" x="195" y="34">O</text><text class="a" x="173" y="83">HO</text><text class="a" x="221" y="81">OH</text><text class="a" x="228.600" y="37">N</text><text class="a" x="255" y="21">N</text><text class="f" x="290" y="34">NH<tspan class="s" dy="3">2</tspan></text><text class="a" x="281" y="67">N</text><text class="a" x="246" y="70">N</text><text class="c" x="9" y="102">C00002</text></g>

<g id="C00001_10" transform="translate(1018,4552)"><rect class="n" width="71" height="64"/><use href="#h2o"/><text class="a" x="14.300" y="21" font-size="13">H</text><text class="a" x="35" y="35" font-size="13">O</text><text class="a" x="55.300" y="21" font-size="13">H</text><text class="c" x="10" y="53">C00001</text></g>

</g>
</svg>
